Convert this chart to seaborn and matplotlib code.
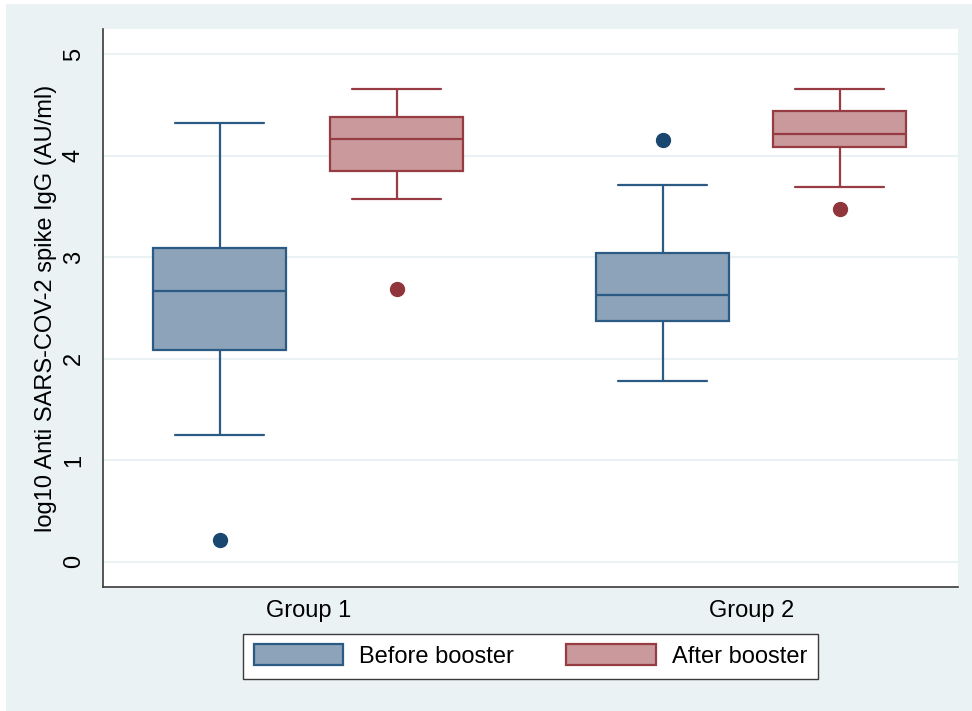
import numpy as np
import pandas as pd
import seaborn as sns
import matplotlib.pyplot as plt
from matplotlib.patches import Patch, Rectangle

# Box summaries (log10 AU/ml)
groups = ["Group 1", "Group 2"]
times = ["Before booster", "After booster"]
whis_low = {"Before booster": [1.25, 1.78], "After booster": [3.57, 3.69]}
q1 = {"Before booster": [2.09, 2.37], "After booster": [3.85, 4.09]}
median = {"Before booster": [2.67, 2.63], "After booster": [4.17, 4.22]}
q3 = {"Before booster": [3.09, 3.04], "After booster": [4.38, 4.44]}
whis_high = {"Before booster": [4.32, 3.71], "After booster": [4.66, 4.66]}
outlier = {"Before booster": [0.21, 4.16], "After booster": [2.69, 3.48]}

fills = {"Before booster": "#8ca3b9", "After booster": "#c9999c"}
edges = {"Before booster": "#2b5a85", "After booster": "#963c42"}
dots = {"Before booster": "#1a476f", "After booster": "#90353b"}

# rebuild a sample whose quartiles/whiskers match the summaries
rows = []
for t in times:
    for i, g in enumerate(groups):
        vals = [whis_low[t][i], q1[t][i], q1[t][i], median[t][i],
                q3[t][i], q3[t][i], whis_high[t][i]]
        pad = whis_high[t][i] if outlier[t][i] < q1[t][i] else whis_low[t][i]
        vals += [pad, outlier[t][i]]
        for v in vals:
            rows.append({"group": g, "time": t, "value": v})
df = pd.DataFrame(rows)

sns.set_style("white")
plt.rcParams['font.family'] = ['Liberation Sans', 'DejaVu Sans']
plt.rcParams['text.color'] = 'black'
plt.rcParams['xtick.color'] = 'black'
plt.rcParams['ytick.color'] = 'black'
plt.rcParams['axes.labelcolor'] = 'black'

fig = plt.figure(figsize=(9.72, 7.11), dpi=100)
fig.patch.set_facecolor("white")
fig.patches.append(Rectangle((6 / 972, 0), 1, 1 - 4 / 711, transform=fig.transFigure,
                             facecolor="#eaf2f3", edgecolor="none", zorder=-10))
ax = fig.add_axes([0.106, 0.1744, 0.8796, 0.7848])
ax.set_facecolor("white")

for t in times:
    sns.boxplot(data=df[df["time"] == t], x="group", y="value", hue="time",
                order=groups, hue_order=times, dodge=True, gap=0.25,
                palette={t: fills[t], times[1 - times.index(t)]: fills[t]},
                saturation=1, linecolor=edges[t], linewidth=1.6, whis=1.5,
                legend=False,
                flierprops=dict(marker="o", markerfacecolor=dots[t],
                                markeredgecolor=dots[t], markersize=10),
                ax=ax)

# widen the whisker caps a little (Stata style)
for ln in ax.lines:
    x = np.asarray(ln.get_xdata(), dtype=float)
    y = np.asarray(ln.get_ydata(), dtype=float)
    if len(x) == 2 and y[0] == y[1] and abs(x[1] - x[0]) < 0.2:
        c = x.mean()
        ln.set_xdata([c - 0.1, c + 0.1])

ax.set_xlim(-0.463, 1.467)
ax.set_ylim(-0.25, 5.25)
ax.set_yticks([0, 1, 2, 3, 4, 5])
ax.grid(axis="y", color="#eaf2f3", linewidth=1.5, zorder=0)
ax.set_axisbelow(True)
for s in ["top", "right"]:
    ax.spines[s].set_visible(False)
for s in ["left", "bottom"]:
    ax.spines[s].set_color("#3a3a3a")
    ax.spines[s].set_linewidth(1.2)

ax.tick_params(axis="x", length=0, pad=9, labelsize=17)
ax.tick_params(axis="y", length=7, width=1.0, color="#3a3a3a", pad=6, labelsize=17)
for lab in ax.get_yticklabels():
    lab.set_rotation(90)
    lab.set_va("center")
ax.set_xlabel("")
ax.set_ylabel("log10 Anti SARS-COV-2 spike IgG (AU/ml)", fontsize=17, labelpad=4)

handles = [Patch(facecolor=fills[t], edgecolor=edges[t], linewidth=1.6, label=t) for t in times]
leg = ax.legend(handles=handles, loc="center", bbox_to_anchor=(0.5, -0.124), ncol=2,
                fontsize=17, frameon=True, fancybox=False, framealpha=1,
                handlelength=3.8, handleheight=1.0, columnspacing=2.2,
                handletextpad=0.68, borderpad=0.45, borderaxespad=0)
leg.get_frame().set_edgecolor("#3a3a3a")
leg.get_frame().set_linewidth(1.0)
leg.get_frame().set_facecolor("white")
for lab in leg.get_texts():
    lab.set_color("black")

fig.savefig("out.png", dpi=100, facecolor=fig.get_facecolor())
